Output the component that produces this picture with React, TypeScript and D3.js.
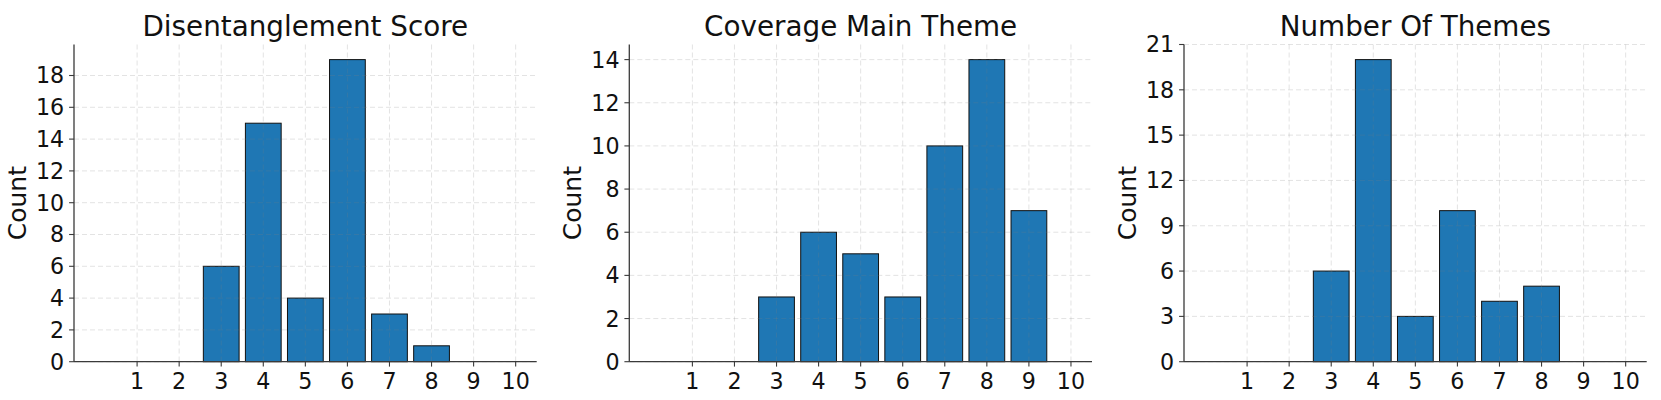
import React from "react";
import * as d3 from "d3";

const scoreLevels = [1, 2, 3, 4, 5, 6, 7, 8, 9, 10];
const xTickLabels = ["1", "2", "3", "4", "5", "6", "7", "8", "9", "10"];

const disentanglementCounts = [0, 0, 6, 15, 4, 19, 3, 1, 0, 0];
const coverageCounts = [0, 0, 3, 6, 5, 3, 10, 14, 7, 0];
const themeCounts = [0, 0, 6, 20, 3, 10, 4, 5, 0, 0];

const panelTitles = ["Disentanglement Score", "Coverage Main Theme", "Number Of Themes"];
const yTicks1 = [0, 2, 4, 6, 8, 10, 12, 14, 16, 18];
const yTicks2 = [0, 2, 4, 6, 8, 10, 12, 14];
const yTicks3 = [0, 3, 6, 9, 12, 15, 18, 21];
const yMaxes = [19.95, 14.7, 21];

const W = 1661;
const H = 400;
const FONT = "DejaVu Sans, sans-serif";
const panelLefts = [74, 629.3, 1184];
const plotW = 462.7;
const plotTop = 44.5;
const plotBottom = 361.7;
const barColor = "#1f77b4";

type PanelProps = {
  left: number;
  title: string;
  counts: number[];
  yTicks: number[];
  yMax: number;
};

function Panel({ left, title, counts, yTicks, yMax }: PanelProps) {
  const x = d3.scaleLinear().domain([-0.5, 10.5]).range([left, left + plotW]);
  const y = d3.scaleLinear().domain([0, yMax]).range([plotBottom, plotTop]);
  const barW = 0.85;
  const gridColor = "rgba(128,128,128,0.22)";
  return (
    <g>
      {/* bars */}
      {scoreLevels.map((lv, i) =>
        counts[i] > 0 ? (
          <rect
            key={"b" + lv}
            x={x(lv - barW / 2)}
            width={x(lv + barW / 2) - x(lv - barW / 2)}
            y={y(counts[i])}
            height={y(0) - y(counts[i])}
            fill={barColor}
            stroke="#111"
            strokeWidth={1}
          />
        ) : null
      )}
      {/* grid (above bars) */}
      {scoreLevels.map((lv) => (
        <line
          key={"gx" + lv}
          x1={x(lv)}
          x2={x(lv)}
          y1={plotTop}
          y2={plotBottom}
          stroke={gridColor}
          strokeWidth={1}
          strokeDasharray="5,3"
        />
      ))}
      {yTicks.map((t) => (
        <line
          key={"gy" + t}
          x1={left}
          x2={left + plotW}
          y1={y(t)}
          y2={y(t)}
          stroke={gridColor}
          strokeWidth={1}
          strokeDasharray="5,3"
        />
      ))}
      {/* spines */}
      <line x1={left} x2={left} y1={plotTop} y2={plotBottom} stroke="#3a3a3a" strokeWidth={1.3} />
      <line x1={left} x2={left + plotW} y1={plotBottom} y2={plotBottom} stroke="#3a3a3a" strokeWidth={1.3} />
      {/* x ticks */}
      {scoreLevels.map((lv, i) => (
        <g key={"xt" + lv}>
          <line x1={x(lv)} x2={x(lv)} y1={plotBottom} y2={plotBottom + 4.9} stroke="#3a3a3a" strokeWidth={1.1} />
          <text x={x(lv)} y={389.3} textAnchor="middle" fontFamily={FONT} fontSize={22.2} fill="#111">
            {xTickLabels[i]}
          </text>
        </g>
      ))}
      {/* y ticks */}
      {yTicks.map((t) => (
        <g key={"yt" + t}>
          <line x1={left - 4.9} x2={left} y1={y(t)} y2={y(t)} stroke="#3a3a3a" strokeWidth={1.1} />
          <text
            x={left - 9.8}
            y={y(t)}
            dy="0.36em"
            textAnchor="end"
            fontFamily={FONT}
            fontSize={22.2}
            fill="#111"
          >
            {t}
          </text>
        </g>
      ))}
      {/* y label */}
      <text
        transform={`translate(${left - 48.5},${(plotTop + plotBottom) / 2}) rotate(-90)`}
        textAnchor="middle"
        fontFamily={FONT}
        fontSize={25}
        fill="#111"
      >
        Count
      </text>
      {/* title */}
      <text
        x={left + plotW / 2}
        y={36.2}
        textAnchor="middle"
        fontFamily={FONT}
        fontSize={27.8}
        fill="#111"
      >
        {title}
      </text>
    </g>
  );
}

export default function App() {
  const allCounts = [disentanglementCounts, coverageCounts, themeCounts];
  const allTicks = [yTicks1, yTicks2, yTicks3];
  return (
    <svg
      width={W}
      height={H}
      viewBox={`0 0 ${W} ${H}`}
      style={{ position: "absolute", left: 0, top: 0, background: "#fff" }}
    >
      <rect x={0} y={0} width={W} height={H} fill="#fff" />
      {panelTitles.map((t, i) => (
        <Panel
          key={t}
          left={panelLefts[i]}
          title={t}
          counts={allCounts[i]}
          yTicks={allTicks[i]}
          yMax={yMaxes[i]}
        />
      ))}
    </svg>
  );
}
